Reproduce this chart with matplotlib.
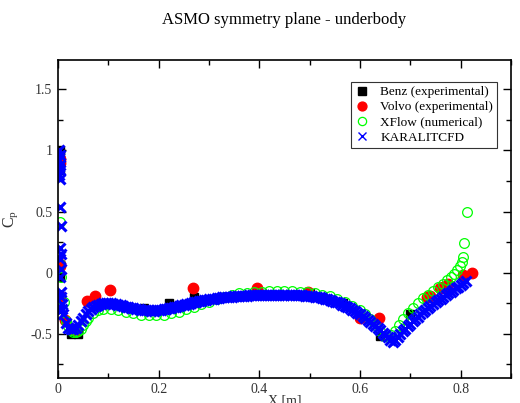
import numpy as np
import matplotlib
matplotlib.use("Agg")
import matplotlib.pyplot as plt
from matplotlib.ticker import MultipleLocator, FuncFormatter

plt.rcParams['font.family'] = ['Liberation Serif', 'DejaVu Serif']
plt.rcParams['mathtext.fontset'] = 'custom'
plt.rcParams['mathtext.rm'] = 'Liberation Serif'
plt.rcParams['mathtext.it'] = 'Liberation Serif:italic'

# Benz (experimental)
benz_x = [0.004, 0.004, 0.005, 0.004, 0.004, 0.025, 0.040, 0.080, 0.170, 0.220,
          0.270, 0.500, 0.566, 0.640, 0.700]
benz_y = [1.00, 0.98, 0.84, -0.04, -0.30, -0.50, -0.50, -0.27, -0.29, -0.25,
          -0.20, -0.17, -0.25, -0.52, -0.34]

# Volvo (experimental)
volvo_x = [0.004, 0.005, 0.004, 0.005, 0.004, 0.014, 0.028, 0.035, 0.058, 0.073,
           0.103, 0.268, 0.395, 0.497, 0.600, 0.638, 0.733, 0.739, 0.759, 0.765,
           0.775, 0.805, 0.822]
volvo_y = [0.93, 0.90, 0.07, 0.05, -0.19, -0.39, -0.46, -0.48, -0.23, -0.19,
           -0.14, -0.125, -0.125, -0.155, -0.37, -0.37, -0.20, -0.19, -0.13, -0.12,
           -0.09, -0.016, 0.00]

# XFlow (numerical)
xflow_x = [0.004, 0.004, 0.006, 0.012, 0.016, 0.020, 0.025, 0.030, 0.035, 0.040,
           0.045, 0.050, 0.055, 0.060, 0.070, 0.080, 0.090, 0.105, 0.120, 0.135,
           0.150, 0.165, 0.180, 0.195, 0.210, 0.225, 0.240, 0.255, 0.270, 0.285,
           0.300, 0.315, 0.330, 0.345, 0.360, 0.375, 0.390, 0.405, 0.420, 0.435,
           0.450, 0.465, 0.480, 0.495, 0.510, 0.525, 0.540, 0.555, 0.570, 0.585,
           0.600, 0.610, 0.620, 0.630, 0.640, 0.648, 0.655, 0.662, 0.670, 0.678,
           0.686, 0.695, 0.705, 0.715, 0.725, 0.735, 0.745, 0.755, 0.765, 0.773,
           0.780, 0.787, 0.793, 0.798, 0.802, 0.805, 0.807, 0.812]
xflow_y = [0.41, 0.07, -0.04, -0.24, -0.40, -0.44, -0.47, -0.49, -0.49, -0.48,
           -0.46, -0.43, -0.40, -0.37, -0.33, -0.31, -0.30, -0.30, -0.31, -0.325,
           -0.335, -0.345, -0.35, -0.35, -0.345, -0.335, -0.32, -0.30, -0.28, -0.26,
           -0.24, -0.22, -0.20, -0.185, -0.17, -0.165, -0.16, -0.155, -0.15, -0.15,
           -0.15, -0.15, -0.155, -0.16, -0.17, -0.18, -0.195, -0.215, -0.24, -0.27,
           -0.31, -0.34, -0.38, -0.43, -0.48, -0.52, -0.53, -0.51, -0.48, -0.43,
           -0.38, -0.33, -0.29, -0.25, -0.21, -0.18, -0.15, -0.12, -0.09, -0.06,
           -0.04, -0.01, 0.02, 0.05, 0.09, 0.13, 0.245, 0.50]

# KARALITCFD
kar_x = [0.003, 0.004, 0.003, 0.005, 0.004, 0.003, 0.004, 0.005, 0.006, 0.005,
         0.006, 0.005, 0.006, 0.005, 0.006, 0.006, 0.007, 0.008,
         0.010, 0.015, 0.020, 0.025, 0.030, 0.035, 0.040, 0.045, 0.050, 0.055,
         0.060, 0.065, 0.070, 0.075, 0.080, 0.085, 0.090, 0.095, 0.100, 0.105,
         0.110, 0.115, 0.120, 0.125, 0.130, 0.135, 0.140, 0.145, 0.150, 0.155,
         0.160, 0.165, 0.170, 0.175, 0.180, 0.185, 0.190, 0.195, 0.200, 0.205,
         0.210, 0.215, 0.220, 0.225, 0.230, 0.235, 0.240, 0.245, 0.250, 0.255,
         0.260, 0.265, 0.270, 0.275, 0.280, 0.285, 0.290, 0.295, 0.300, 0.305,
         0.310, 0.315, 0.320, 0.325, 0.330, 0.335, 0.340, 0.345, 0.350, 0.355,
         0.360, 0.365, 0.370, 0.375, 0.380, 0.385, 0.390, 0.395, 0.400, 0.405,
         0.410, 0.415, 0.420, 0.425, 0.430, 0.435, 0.440, 0.445, 0.450, 0.455,
         0.460, 0.465, 0.470, 0.475, 0.480, 0.485, 0.490, 0.495, 0.500, 0.505,
         0.510, 0.515, 0.520, 0.525, 0.530, 0.535, 0.540, 0.545, 0.550, 0.555,
         0.560, 0.565, 0.570, 0.575, 0.580, 0.585, 0.590, 0.595, 0.600, 0.605,
         0.610, 0.615, 0.620, 0.625, 0.630, 0.635, 0.640, 0.645, 0.650, 0.655,
         0.660, 0.665, 0.670, 0.675, 0.680, 0.685, 0.690, 0.695, 0.700, 0.705,
         0.710, 0.715, 0.720, 0.725, 0.730, 0.735, 0.740, 0.745, 0.750, 0.755,
         0.760, 0.765, 0.770, 0.775, 0.780, 0.785, 0.790, 0.795, 0.800, 0.805,
         0.810]
kar_y = [1.00, 0.96, 0.92, 0.88, 0.84, 0.80, 0.77, 0.54, 0.38, 0.20,
         0.15, 0.115, 0.03, -0.04, -0.16, -0.20, -0.26, -0.30,
         -0.34, -0.41, -0.45, -0.465, -0.465, -0.45, -0.43, -0.40, -0.37, -0.34,
         -0.315, -0.295, -0.28, -0.27, -0.262, -0.256, -0.252, -0.25, -0.25, -0.251,
         -0.254, -0.258, -0.263, -0.268, -0.273, -0.278, -0.283, -0.288, -0.292, -0.296,
         -0.30, -0.303, -0.306, -0.308, -0.31, -0.311, -0.311, -0.31, -0.308, -0.305,
         -0.302, -0.298, -0.294, -0.289, -0.284, -0.279, -0.274, -0.269, -0.264, -0.259,
         -0.254, -0.249, -0.244, -0.239, -0.235, -0.231, -0.227, -0.223, -0.219, -0.216,
         -0.213, -0.21, -0.207, -0.204, -0.202, -0.20, -0.198, -0.196, -0.194, -0.193,
         -0.191, -0.19, -0.189, -0.188, -0.187, -0.186, -0.185, -0.185, -0.184, -0.184,
         -0.183, -0.183, -0.183, -0.183, -0.183, -0.183, -0.183, -0.183, -0.183, -0.183,
         -0.184, -0.184, -0.185, -0.185, -0.186, -0.187, -0.188, -0.19, -0.192, -0.194,
         -0.197, -0.20, -0.204, -0.208, -0.213, -0.218, -0.224, -0.23, -0.237, -0.245,
         -0.253, -0.262, -0.271, -0.281, -0.292, -0.303, -0.315, -0.328, -0.342, -0.356,
         -0.371, -0.387, -0.403, -0.42, -0.437, -0.455, -0.473, -0.492, -0.51, -0.53,
         -0.55, -0.565, -0.555, -0.53, -0.505, -0.48, -0.458, -0.437, -0.417, -0.397,
         -0.378, -0.36, -0.342, -0.324, -0.307, -0.29, -0.274, -0.258, -0.243, -0.228,
         -0.213, -0.199, -0.185, -0.171, -0.157, -0.143, -0.129, -0.115, -0.101, -0.087,
         -0.072]

fig = plt.figure(figsize=(5.2, 4.03), dpi=100)
ax = fig.add_axes([0.1115, 0.063, 0.8712, 0.788])

ax.plot(benz_x, benz_y, ls='none', marker='s', ms=6, color='black', label='Benz (experimental)')
ax.plot(volvo_x, volvo_y, ls='none', marker='o', ms=7.5, color='#ff0000', label='Volvo (experimental)')
ax.plot(xflow_x, xflow_y, ls='none', marker='o', ms=7, mfc='none', mec='#00ff00', mew=0.9,
        label='XFlow (numerical)')
ax.plot(kar_x, kar_y, ls='none', marker='x', ms=7.5, mew=2.2, color='#0000ff', label='KARALITCFD')

ax.set_xlim(0, 0.9)
ax.set_ylim(-0.86, 1.74)
ax.xaxis.set_major_locator(MultipleLocator(0.2))
ax.xaxis.set_minor_locator(MultipleLocator(0.1))
ax.yaxis.set_major_locator(MultipleLocator(0.5))
ax.yaxis.set_minor_locator(MultipleLocator(0.25))
fmt = FuncFormatter(lambda v, p: ('%g' % round(v, 3)).replace('\u2212', '-'))
ax.xaxis.set_major_formatter(fmt)
ax.yaxis.set_major_formatter(fmt)
ax.tick_params(which='both', direction='in', top=True, right=True, width=1,
               labelsize=10, labelcolor='#333333', pad=4)
ax.tick_params(which='major', length=6)
ax.tick_params(which='minor', length=3.5)
for s in ax.spines.values():
    s.set_linewidth(1.2)

ax.set_title('ASMO symmetry plane - underbody', fontsize=12, pad=26)
ax.set_xlabel('X [m]', fontsize=10, labelpad=-1.5, color='#333333')
ax.set_ylabel(r'C$_\mathrm{p}$', fontsize=11.5, labelpad=8, color='#333333')

leg = ax.legend(loc='upper right', bbox_to_anchor=(0.969, 0.931), borderaxespad=0,
                fontsize=9.5, fancybox=False, framealpha=1, edgecolor='#333333',
                handlelength=1.0, handletextpad=0.9, labelspacing=0.22,
                borderpad=0.3, numpoints=1, markerscale=0.85)
leg.get_frame().set_linewidth(0.8)
leg.legend_handles[3].set_markeredgewidth(1.0)

fig.savefig('out.png', dpi=100)
